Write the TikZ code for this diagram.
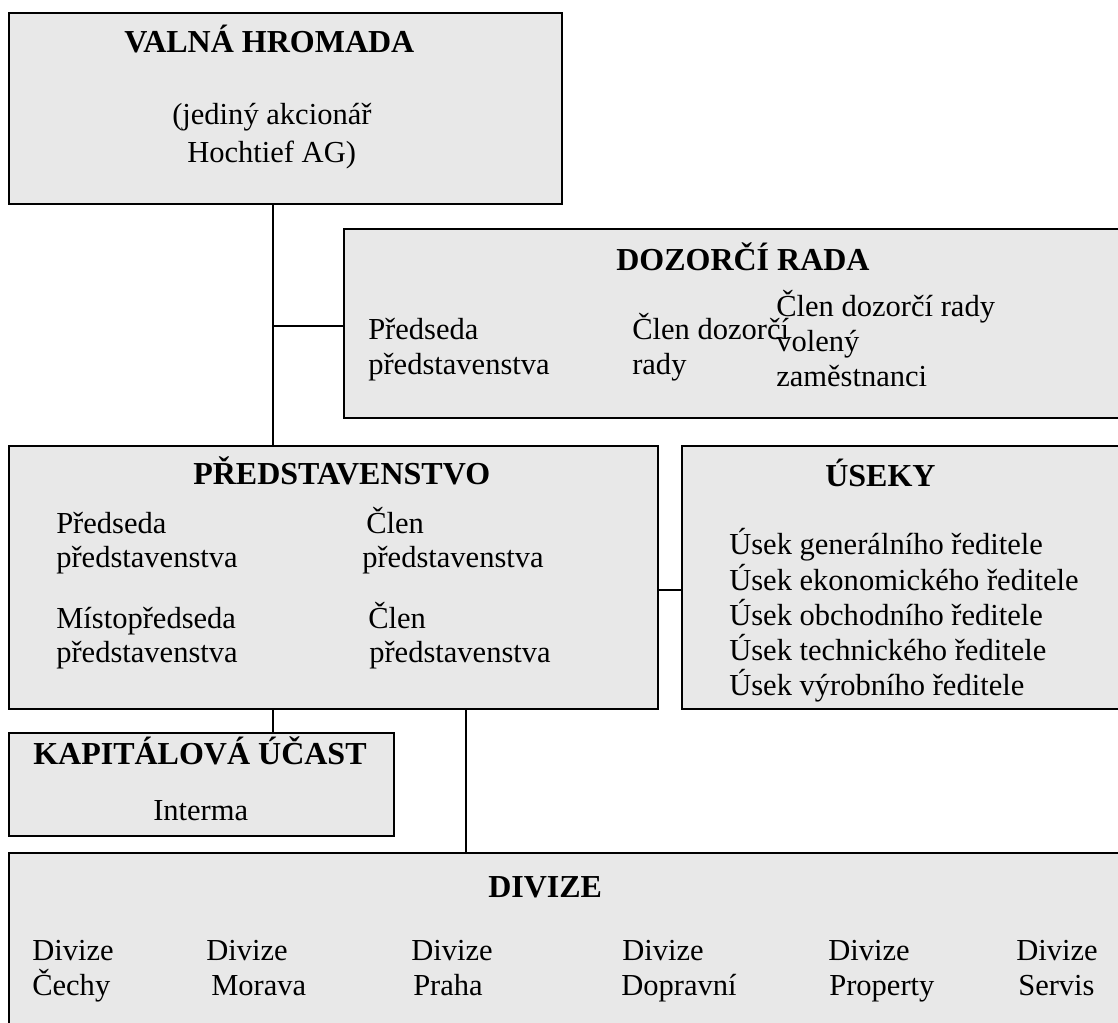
\documentclass[tikz,border=0pt]{standalone}
\usepackage{fontspec}
\setmainfont{Liberation Serif}
\newdimen\pxu \pxu=0.75pt
\definecolor{boxfill}{RGB}{232,232,232}
\tikzset{
  box/.style={draw=black, fill=boxfill, line width=1.5pt, anchor=north west, inner sep=0pt, outer sep=0pt},
  thickbox/.style={box, line width=2.1pt},
  conn/.style={draw=black, line width=1.4pt},
  ttl/.style={anchor=base west, inner sep=0pt, font=\fontsize{24}{28}\selectfont\bfseries},
  txt/.style={anchor=base west, inner sep=0pt, font=\fontsize{22.9}{26.25}\selectfont},
}
\begin{document}
\begin{tikzpicture}[x=0.75pt,y=-0.75pt]
\useasboundingbox (0,0) rectangle (1118,1023);
\clip (0,0) rectangle (1118,1023);
\fill[white] (0,0) rectangle (1118,1023);

% boxes
\node[thickbox, minimum width=553\pxu, minimum height=191\pxu] (vh) at (9,13) {};
\node[box, minimum width=800\pxu, minimum height=189\pxu] (dr) at (344,229) {};
\node[box, minimum width=649\pxu, minimum height=263\pxu] (pr) at (9,446) {};
\node[box, minimum width=460\pxu, minimum height=263\pxu] (us) at (682,446) {};
\node[box, minimum width=385\pxu, minimum height=103\pxu] (ku) at (9,733) {};
\node[box, minimum width=1140\pxu, minimum height=200\pxu] (dv) at (9,853) {};

% connector helpers
\coordinate (cA) at (273,326);
\coordinate (cB) at (466,0);
\coordinate (cC) at (0,590);

\draw[conn] (vh.south -| cA) -- (pr.north -| cA);
\draw[conn] (cA) -- (dr.west |- cA);
\draw[conn] (pr.east |- cC) -- (us.west |- cC);
\draw[conn] (pr.south -| cA) -- (ku.north -| cA);
\draw[conn] (pr.south -| cB) -- (dv.north -| cB);

% VALNÁ HROMADA
\node[ttl] (vht) at (124,53) {VALNÁ HROMADA};
\node[txt] (vh1) at (172,125) {(jediný akcionář};
\node[txt] (vh2) at (187,163) {Hochtief AG)};

% DOZORČÍ RADA
\node[ttl] (drt) at (616,271) {DOZORČÍ RADA};
\node[txt] (dr1) at (368,340) {Předseda};
\node[txt] (dr2) at (368,375) {představenstva};
\node[txt] (dr3) at (632,340) {Člen dozorčí};
\node[txt] (dr4) at (632,375) {rady};
\node[txt] (dr5) at (776,317) {Člen dozorčí rady};
\node[txt] (dr6) at (776,352) {volený};
\node[txt] (dr7) at (776,387) {zaměstnanci};

% PŘEDSTAVENSTVO
\node[ttl] (prt) at (193,485) {PŘEDSTAVENSTVO};
\node[txt] (pr1) at (56,533) {Předseda};
\node[txt] (pr2) at (56,567) {představenstva};
\node[txt] (pr3) at (56,628) {Místopředseda};
\node[txt] (pr4) at (56,662) {představenstva};
\node[txt] (pr5) at (366,533) {Člen};
\node[txt] (pr6) at (362,567) {představenstva};
\node[txt] (pr7) at (368,628) {Člen};
\node[txt] (pr8) at (369,662) {představenstva};

% ÚSEKY
\node[ttl] (ust) at (825,487) {ÚSEKY};
\node[txt] (us1) at (729,555) {Úsek generálního ředitele};
\node[txt] (us2) at (729,590) {Úsek ekonomického ředitele};
\node[txt] (us3) at (729,625) {Úsek obchodního ředitele};
\node[txt] (us4) at (729,660) {Úsek technického ředitele};
\node[txt] (us5) at (729,695) {Úsek výrobního ředitele};

% KAPITÁLOVÁ ÚČAST
\node[ttl] (kut) at (33,764) {KAPITÁLOVÁ ÚČAST};
\node[txt] (ku1) at (153,820) {Interma};

% DIVIZE
\node[ttl] (dvt) at (488,897) {DIVIZE};
\node[txt] (d1a) at (32,960) {Divize};
\node[txt] (d1b) at (32,995) {Čechy};
\node[txt] (d2a) at (206,960) {Divize};
\node[txt] (d2b) at (211,995) {Morava};
\node[txt] (d3a) at (411,960) {Divize};
\node[txt] (d3b) at (413,995) {Praha};
\node[txt] (d4a) at (622,960) {Divize};
\node[txt] (d4b) at (621,995) {Dopravní};
\node[txt] (d5a) at (828,960) {Divize};
\node[txt] (d5b) at (829,995) {Property};
\node[txt] (d6a) at (1016,960) {Divize};
\node[txt] (d6b) at (1018,995) {Servis};
\end{tikzpicture}
\end{document}
